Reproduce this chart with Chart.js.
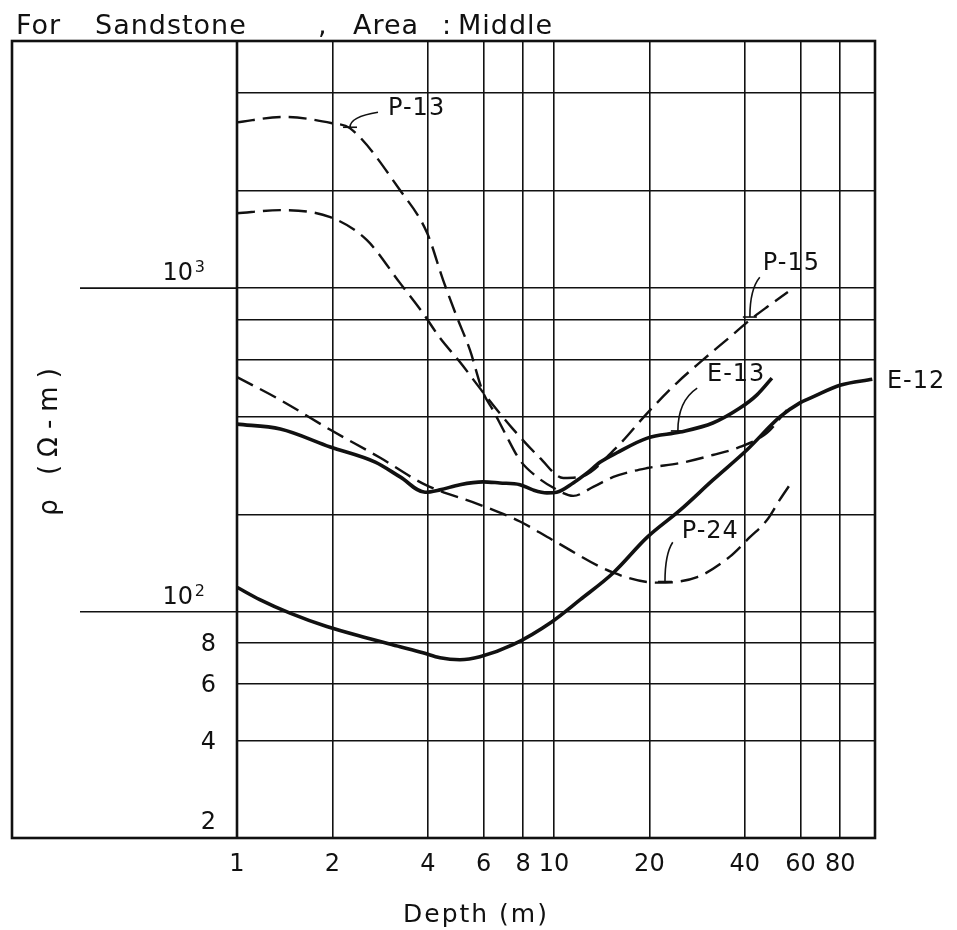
<!DOCTYPE html>
<html>
<head>
<meta charset="utf-8">
<script src="https://cdn.jsdelivr.net/npm/chart.js@4.4.0/dist/chart.umd.min.js"></script>
<style>
  html, body { margin: 0; padding: 0; background: #fff; }
  #wrap { width: 957px; height: 930px; }
</style>
</head>
<body>
<div id="wrap"><canvas id="resist" width="957" height="930"></canvas></div>
<script>
// depth (m) / resistivity (ohm-m)
const p13Depth = [1, 1.4, 2.0, 2.27, 3.27, 3.98, 4.47, 4.94, 5.43, 5.97, 6.42, 7.0, 7.81, 8.84, 9.93, 11.5, 13.3, 15.4, 19.7, 25.0, 31.7, 38.6, 47.0, 54.3];
const p13Rho   = [3250, 3380, 3230, 3120, 2005, 1480, 1058, 814, 644, 477, 420, 357, 294, 261, 242, 228, 243, 261, 278, 288, 305, 323, 357, 420];

const p15Depth = [1, 1.37, 1.97, 2.57, 3.27, 3.86, 4.37, 5.05, 5.97, 7.37, 9.03, 10.7, 12.1, 15.8, 19.7, 24.4, 29.5, 35.9, 41.5, 47.0, 54.7];
const p15Rho   = [1704, 1741, 1656, 1406, 1036, 837, 701, 591, 477, 370, 299, 259, 261, 323, 411, 509, 600, 706, 797, 874, 972];

const p24Depth = [1, 1.37, 1.97, 2.83, 3.92, 5.84, 7.81, 9.86, 15.4, 21.1, 28.3, 35.9, 41.5, 47.0, 51.6, 56.3];
const p24Rho   = [531, 451, 365, 299, 247, 214, 190, 167, 132, 123, 128, 148, 170, 192, 222, 252];

const e12Depth = [1, 1.18, 1.47, 1.92, 2.57, 3.27, 3.86, 4.37, 5.05, 5.84, 7.42, 9.86, 12.1, 15.4, 19.7, 25.0, 31.7, 40.6, 51.6, 59.7, 65.6, 79.8, 101];
const e12Rho   = [119, 109, 99, 90, 83, 78, 74.7, 72.1, 71.1, 72.6, 79.1, 93.2, 109, 132, 170, 206, 255, 316, 400, 442, 461, 501, 523];

const e13Depth = [1, 1.37, 1.97, 2.73, 3.27, 3.92, 4.37, 5.05, 5.97, 6.75, 7.81, 8.58, 9.5, 10.2, 11.5, 12.7, 14.0, 15.8, 19.7, 25.0, 31.7, 38.6, 43.7, 48.7];
const e13Rho   = [380, 367, 323, 290, 261, 234, 238, 247, 252, 250, 247, 238, 233, 234, 250, 268, 290, 310, 344, 359, 383, 426, 468, 527];

const xTickValues = [1, 2, 4, 6, 8, 10, 20, 40, 60, 80];
const xTickLabels = ['1', '2', '4', '6', '8', '10', '20', '40', '60', '80'];
const yGridValues = [20, 40, 60, 80, 100, 200, 400, 600, 800, 1000, 2000, 4000];
const yLabelValues = [1000, 100, 80, 60, 40, 20];
const yLabelTexts = ['10³', '10²', '8', '6', '4', '2'];

// curve names and where they sit (data coordinates)
const annoText = ['P-13', 'P-15', 'E-13', 'E-12', 'P-24'];
const annoAt = [[2.995, 3420], [45.6, 1137], [30.4, 516], [112.3, 491], [25.3, 169]];
const leaderFrom = [[2.785, 3493], [44.6, 1081], [28.3, 491], null, [23.7, 164]];
const leaderTo = [[2.273, 3140], [41.5, 814], [24.6, 362], null, [22.4, 124]];

const FONT = '"DejaVu Sans", sans-serif';
const INK = '#111';

function pts(xs, ys) {
  return xs.map((x, i) => ({ x: x, y: ys[i] }));
}

function curve(label, xs, ys, dashed) {
  return {
    label: label,
    data: pts(xs, ys),
    showLine: true,
    borderColor: INK,
    borderWidth: dashed ? 2.4 : 3.6,
    borderDash: dashed ? [18, 8] : [],
    pointRadius: 0,
    cubicInterpolationMode: 'monotone',
    fill: false
  };
}

const sheet = {
  id: 'sheet',
  beforeDraw(chart) {
    const c = chart.ctx;
    c.save();
    c.fillStyle = '#fff';
    c.fillRect(0, 0, chart.width, chart.height);
    c.restore();
  },
  afterDraw(chart) {
    const c = chart.ctx, a = chart.chartArea;
    const xs = chart.scales.x, ys = chart.scales.y;
    c.save();
    c.strokeStyle = INK;
    c.fillStyle = INK;

    // outer box and the plot's left edge
    c.lineWidth = 2.6;
    c.strokeRect(12, a.top, a.right - 12, a.bottom - a.top);
    c.beginPath();
    c.moveTo(a.left, a.top);
    c.lineTo(a.left, a.bottom);
    c.stroke();

    // decade lines run into the label box
    c.lineWidth = 1.6;
    [100, 1000].forEach(v => {
      const y = ys.getPixelForValue(v);
      c.beginPath();
      c.moveTo(80, y);
      c.lineTo(a.left, y);
      c.stroke();
    });

    // y labels
    c.textBaseline = 'middle';
    c.textAlign = 'right';
    yLabelValues.forEach((v, i) => {
      const t = yLabelTexts[i];
      const y = ys.getPixelForValue(v);
      if (t.length === 3) {
        c.font = '16px ' + FONT;
        c.fillText(t.slice(2) === '³' ? '3' : '2', 205, y - 20);
        c.font = '24px ' + FONT;
        c.fillText('10', 193, y - 14);
      } else {
        c.font = '24px ' + FONT;
        c.fillText(t, 216, v === 20 ? y - 15 : y + 2);
      }
    });

    // x labels
    c.textAlign = 'center';
    c.font = '24px ' + FONT;
    xTickValues.forEach((v, i) => {
      c.fillText(xTickLabels[i], xs.getPixelForValue(v), a.bottom + 27);
    });

    // title
    c.textAlign = 'left';
    c.textBaseline = 'alphabetic';
    c.font = '27px ' + FONT;
    c.letterSpacing = '1px';
    c.fillText('For', 16, 34);
    c.fillText('Sandstone', 95, 34);
    c.fillText(',', 318, 34);
    c.fillText('Area', 353, 34);
    c.fillText(':', 442, 34);
    c.fillText('Middle', 458, 34);

    // axis titles
    c.font = '25px ' + FONT;
    c.letterSpacing = '2px';
    c.textAlign = 'center';
    c.fillText('Depth (m)', 476, 922);

    c.save();
    c.translate(50, 442);
    c.rotate(-Math.PI / 2);
    c.font = '26px ' + FONT;
    c.letterSpacing = '8px';
    c.textBaseline = 'middle';
    c.fillText('ρ (Ω-m)', 4, 0);
    c.restore();

    // curve names with leaders
    c.letterSpacing = '1px';
    c.font = '24px ' + FONT;
    c.textAlign = 'left';
    c.textBaseline = 'alphabetic';
    c.lineWidth = 1.6;
    annoText.forEach((t, i) => {
      c.fillText(t, xs.getPixelForValue(annoAt[i][0]), ys.getPixelForValue(annoAt[i][1]));
      if (!leaderFrom[i]) return;
      const x0 = xs.getPixelForValue(leaderFrom[i][0]), y0 = ys.getPixelForValue(leaderFrom[i][1]);
      const x1 = xs.getPixelForValue(leaderTo[i][0]), y1 = ys.getPixelForValue(leaderTo[i][1]);
      const cy = y0 + (y1 - y0) * 0.3;
      c.beginPath();
      c.moveTo(x0, y0);
      c.quadraticCurveTo(x1, cy, x1, y1);
      c.stroke();
      // small cross tick where the leader meets the curve
      const dy = y1 - cy;
      const len = Math.abs(dy) || 1;
      const nx = -dy / len * 7;
      c.beginPath();
      c.moveTo(x1 - nx, y1);
      c.lineTo(x1 + nx, y1);
      c.stroke();
    });
    c.restore();
  }
};

new Chart(document.getElementById('resist'), {
  type: 'scatter',
  data: {
    datasets: [
      curve('P-13', p13Depth, p13Rho, true),
      curve('P-15', p15Depth, p15Rho, true),
      curve('P-24', p24Depth, p24Rho, true),
      curve('E-12', e12Depth, e12Rho, false),
      curve('E-13', e13Depth, e13Rho, false)
    ]
  },
  options: {
    responsive: false,
    animation: false,
    devicePixelRatio: 1,
    layout: { padding: { left: 237, top: 41, right: 82, bottom: 92 } },
    plugins: { legend: { display: false }, tooltip: { enabled: false } },
    scales: {
      x: {
        type: 'logarithmic',
        min: 1,
        max: 103,
        afterBuildTicks: s => { s.ticks = xTickValues.map(v => ({ value: v })); },
        afterFit: s => { s.height = 0; },
        border: { display: false },
        grid: { color: INK, lineWidth: 1.6, drawTicks: false },
        ticks: { display: false }
      },
      y: {
        type: 'logarithmic',
        min: 20,
        max: 5800,
        afterBuildTicks: s => { s.ticks = yGridValues.map(v => ({ value: v })); },
        afterFit: s => { s.width = 0; },
        border: { display: false },
        grid: { color: INK, lineWidth: 1.6, drawTicks: false },
        ticks: { display: false }
      }
    }
  },
  plugins: [sheet]
});
</script>
</body>
</html>
